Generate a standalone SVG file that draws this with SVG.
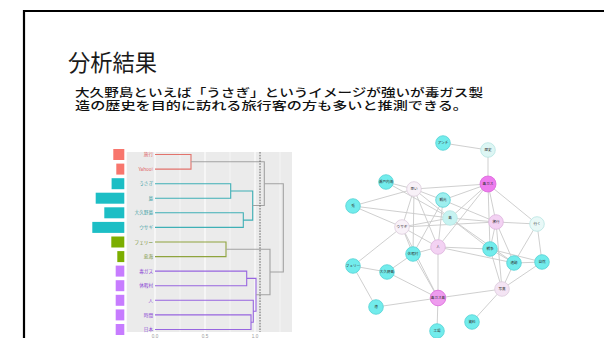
<svg xmlns="http://www.w3.org/2000/svg" width="604" height="338" viewBox="0 0 604 338">
<style>
.jp{font-family:"Noto Sans CJK JP","Noto Sans",sans-serif;}
.lbl{font-family:"Noto Sans CJK JP","Noto Sans",sans-serif;font-size:4.6px;text-anchor:end;}
.ax{font-family:"Liberation Sans",sans-serif;font-size:4.6px;fill:#999;text-anchor:middle;}
.dl{fill:none;stroke-width:1.1;}
.red{stroke:#E2736C;} .teal{stroke:#3FB0B6;} .olive{stroke:#8FA43E;} .purp{stroke:#9866E0;} .gry{stroke:#A2A2A2;}
.edge{stroke:#CACACA;stroke-width:0.9;fill:none;}
.nd{stroke-width:0.8;}
.t{fill:#72ECEC;stroke:#55D2D4;}
.lt{fill:#DDF6F4;stroke:#B8E4E2;}
.mg{fill:#EE7CEE;stroke:#DA66DA;}
.lp{fill:#F3D2F3;stroke:#DDB4DD;}
.wp{fill:#F8F1F8;stroke:#DCCCDC;}
.nl{font-family:"Noto Sans CJK JP","Noto Sans",sans-serif;font-size:3.6px;fill:#333;text-anchor:middle;}
</style>
<rect width="604" height="338" fill="#fff"/>
<path d="M610,11 H24 V345" fill="none" stroke="#000" stroke-width="2.2"/>
<text class="jp" x="68" y="71" font-size="23" textLength="89" lengthAdjust="spacingAndGlyphs" fill="#1a1a1a">分析結果</text>
<text class="jp" x="75" y="96.6" font-size="11.8" font-weight="500" fill="#111" textLength="408" lengthAdjust="spacingAndGlyphs">大久野島といえば「うさぎ」というイメージが強いが毒ガス製</text>
<text class="jp" x="75" y="110.4" font-size="11.8" font-weight="500" fill="#111" textLength="393" lengthAdjust="spacingAndGlyphs">造の歴史を目的に訪れる旅行客の方も多いと推測できる。</text>

<g id="dendrogram">
<rect x="126.7" y="152" width="165.3" height="180" fill="#EBEBEB"/>
<g stroke="#fff">
<line x1="155" y1="152" x2="155" y2="332" stroke-width="1.1"/>
<line x1="205" y1="152" x2="205" y2="332" stroke-width="1.1"/>
<line x1="255" y1="152" x2="255" y2="332" stroke-width="1.1"/>
<line x1="180" y1="152" x2="180" y2="332" stroke-width="0.5"/>
<line x1="230" y1="152" x2="230" y2="332" stroke-width="0.5"/>
<line x1="280" y1="152" x2="280" y2="332" stroke-width="0.5"/>
</g>
<g id="bars">
<rect x="113.3" y="149" width="11" height="11" fill="#F8766D"/>
<rect x="116.3" y="163.6" width="8" height="11" fill="#F8766D"/>
<rect x="111.6" y="178.2" width="12.7" height="11" fill="#1CBEC5"/>
<rect x="95.7" y="192.7" width="28.6" height="11" fill="#1CBEC5"/>
<rect x="104.3" y="207.3" width="20" height="11" fill="#1CBEC5"/>
<rect x="92.3" y="221.9" width="32" height="11" fill="#1CBEC5"/>
<rect x="111.3" y="236.5" width="13" height="11" fill="#7CAE00"/>
<rect x="117.3" y="251.1" width="7" height="11" fill="#7CAE00"/>
<rect x="115.7" y="265.6" width="8.6" height="11" fill="#C77CFF"/>
<rect x="115.7" y="280.2" width="8.6" height="11" fill="#C77CFF"/>
<rect x="115.7" y="294.8" width="8.6" height="11" fill="#C77CFF"/>
<rect x="115.7" y="309.4" width="8.6" height="11" fill="#C77CFF"/>
<rect x="115.7" y="324" width="8.6" height="11" fill="#C77CFF"/>
</g>
<g id="dendro-lines">
<path class="dl red" d="M155,154.5 H191 V169.1 H155"/>
<path class="dl teal" d="M155,183.7 H230.7 V198.2 H155 M155,212.8 H243.3 V227.4 H155 M230.7,191 H252.7 V220.1 H243.3"/>
<path class="dl gry" d="M191,161.8 H264.3 V205.5 H252.7"/>
<path class="dl olive" d="M155,242 H226 V256.6 H155"/>
<path class="dl purp" d="M155,271.1 H246.7 V285.7 H155 M155,314.9 H251 V329.5 H155 M155,300.3 H253.3 V322.2 H251 M246.7,278.4 H256 V311.2 H253.3"/>
<path class="dl gry" d="M226,249.3 H270 V294.8 H256 M264.3,183.7 H283.3 V272 H270"/>
<line x1="260" y1="152" x2="260" y2="332" stroke="#666" stroke-width="1" stroke-dasharray="1.6,1.2"/>
</g>
<g id="leaf-labels">
<text class="lbl" x="153" y="156.1" fill="#E06060">旅行</text>
<text class="lbl" x="153" y="170.7" fill="#E06060">Yahoo!</text>
<text class="lbl" x="153" y="185.3" fill="#3A9EA4">うさぎ</text>
<text class="lbl" x="153" y="199.8" fill="#3A9EA4">島</text>
<text class="lbl" x="153" y="214.4" fill="#3A9EA4">大久野島</text>
<text class="lbl" x="153" y="229" fill="#3A9EA4">ウサギ</text>
<text class="lbl" x="153" y="243.6" fill="#6C8A1E">フェリー</text>
<text class="lbl" x="153" y="258.2" fill="#6C8A1E">忠海</text>
<text class="lbl" x="153" y="272.7" fill="#8A44D4">毒ガス</text>
<text class="lbl" x="153" y="287.3" fill="#8A44D4">休暇村</text>
<text class="lbl" x="153" y="301.9" fill="#8A44D4">人</text>
<text class="lbl" x="153" y="316.5" fill="#8A44D4">時間</text>
<text class="lbl" x="153" y="331.1" fill="#8A44D4">日本</text>
</g>
<text class="ax" x="155" y="337.5">0.0</text>
<text class="ax" x="205" y="337.5">0.5</text>
<text class="ax" x="255" y="337.5">1.0</text>
</g>

<g id="connectors">
<path class="edge" d="
M443,143 L488,150 M488,150 L488,184
M386,182 L414,189 M386,182 L450,218
M353,206 L414,189 M353,206 L402,227 M353,206 L450,218
M414,189 L488,184 M414,189 L443,200 M414,189 L450,218 M414,189 L402,227 M414,189 L438,247 M414,189 L413,254
M443,200 L488,184 M443,200 L496,222 M443,200 L438,247 M443,200 L413,254
M450,218 L488,184 M450,218 L496,222 M450,218 L490,249 M450,218 L514,263 M402,227 L450,218
M402,227 L496,222 M402,227 L438,247 M402,227 L413,254 M402,227 L438,298
M488,184 L438,247 M488,184 L496,222 M488,184 L537,224 M488,184 L490,249
M496,222 L537,224 M496,222 L490,249 M496,222 L514,263 M496,222 L502,289
M537,224 L542,262 M537,224 L514,263
M438,247 L413,254 M438,247 L490,249 M438,247 L514,263 M438,247 L438,298
M413,254 L387,272 M413,254 L438,298
M490,249 L514,263 M490,249 L502,289 M490,249 L542,262
M514,263 L542,262 M514,263 L502,289 M542,262 L502,289
M353,266 L387,272 M353,266 L376,307 M353,266 L402,227
M387,272 L438,298 M376,307 L438,298
M438,298 L502,289 M438,298 L437,331 M502,289 L472,322"/>
</g>

<g id="n1"><circle class="nd t" cx="443" cy="143" r="7.3"/><text class="nl" x="443" y="144.3">アンチ</text></g>
<g id="n2"><circle class="nd lt" cx="488" cy="150" r="7.3"/><text class="nl" x="488" y="151.3">歴史</text></g>
<g id="n3"><circle class="nd mg" cx="488" cy="184" r="8"/><text class="nl" x="488" y="185.3">毒ガス</text></g>
<g id="n4"><circle class="nd t" cx="386" cy="182" r="7.3"/><text class="nl" x="386" y="183.3">瀬戸内海</text></g>
<g id="n5"><circle class="nd wp" cx="414" cy="189" r="7.3"/><text class="nl" x="414" y="190.3">思い</text></g>
<g id="n6"><circle class="nd t" cx="443" cy="200" r="7.3" style="fill:#9DEFEF"/><text class="nl" x="443" y="201.3">観光</text></g>
<g id="n7"><circle class="nd t" cx="353" cy="206" r="7.3"/><text class="nl" x="353" y="207.3">兎</text></g>
<g id="n8"><circle class="nd lt" cx="450" cy="218" r="7.3" style="fill:#C6F3F1"/><text class="nl" x="450" y="219.3">島</text></g>
<g id="n9"><circle class="nd wp" cx="402" cy="227" r="7.3"/><text class="nl" x="402" y="228.3">ウサギ</text></g>
<g id="n10"><circle class="nd lp" cx="496" cy="222" r="7.3"/><text class="nl" x="496" y="223.3">旅行</text></g>
<g id="n11"><circle class="nd lt" cx="537" cy="224" r="7.3" style="fill:#E8F8F7"/><text class="nl" x="537" y="225.3">行く</text></g>
<g id="n12"><circle class="nd lp" cx="438" cy="247" r="7.3"/><text class="nl" x="438" y="248.3">人</text></g>
<g id="n13"><circle class="nd t" cx="413" cy="254" r="7.3"/><text class="nl" x="413" y="255.3">休暇村</text></g>
<g id="n14"><circle class="nd t" cx="490" cy="249" r="7.3"/><text class="nl" x="490" y="250.3">戦争</text></g>
<g id="n15"><circle class="nd t" cx="514" cy="263" r="7.3"/><text class="nl" x="514" y="264.3">遺跡</text></g>
<g id="n16"><circle class="nd t" cx="542" cy="262" r="7.3"/><text class="nl" x="542" y="263.3">自然</text></g>
<g id="n17"><circle class="nd t" cx="353" cy="266" r="7.3"/><text class="nl" x="353" y="267.3">フェリー</text></g>
<g id="n18"><circle class="nd t" cx="387" cy="272" r="7.3"/><text class="nl" x="387" y="273.3">大久野島</text></g>
<g id="n19"><circle class="nd t" cx="376" cy="307" r="7.3"/><text class="nl" x="376" y="308.3">港</text></g>
<g id="n20"><circle class="nd mg" cx="438" cy="298" r="7.8" style="fill:#EE9CEE"/><text class="nl" x="438" y="299.3">毒ガス島</text></g>
<g id="n21"><circle class="nd wp" cx="502" cy="289" r="7.3" style="fill:#F4E4F4"/><text class="nl" x="502" y="290.3">写真</text></g>
<g id="n22"><circle class="nd t" cx="472" cy="322" r="7.3"/><text class="nl" x="472" y="323.3">資料</text></g>
<g id="n23"><circle class="nd t" cx="437" cy="331" r="7.3"/><text class="nl" x="437" y="332.3">工場</text></g>
</svg>
